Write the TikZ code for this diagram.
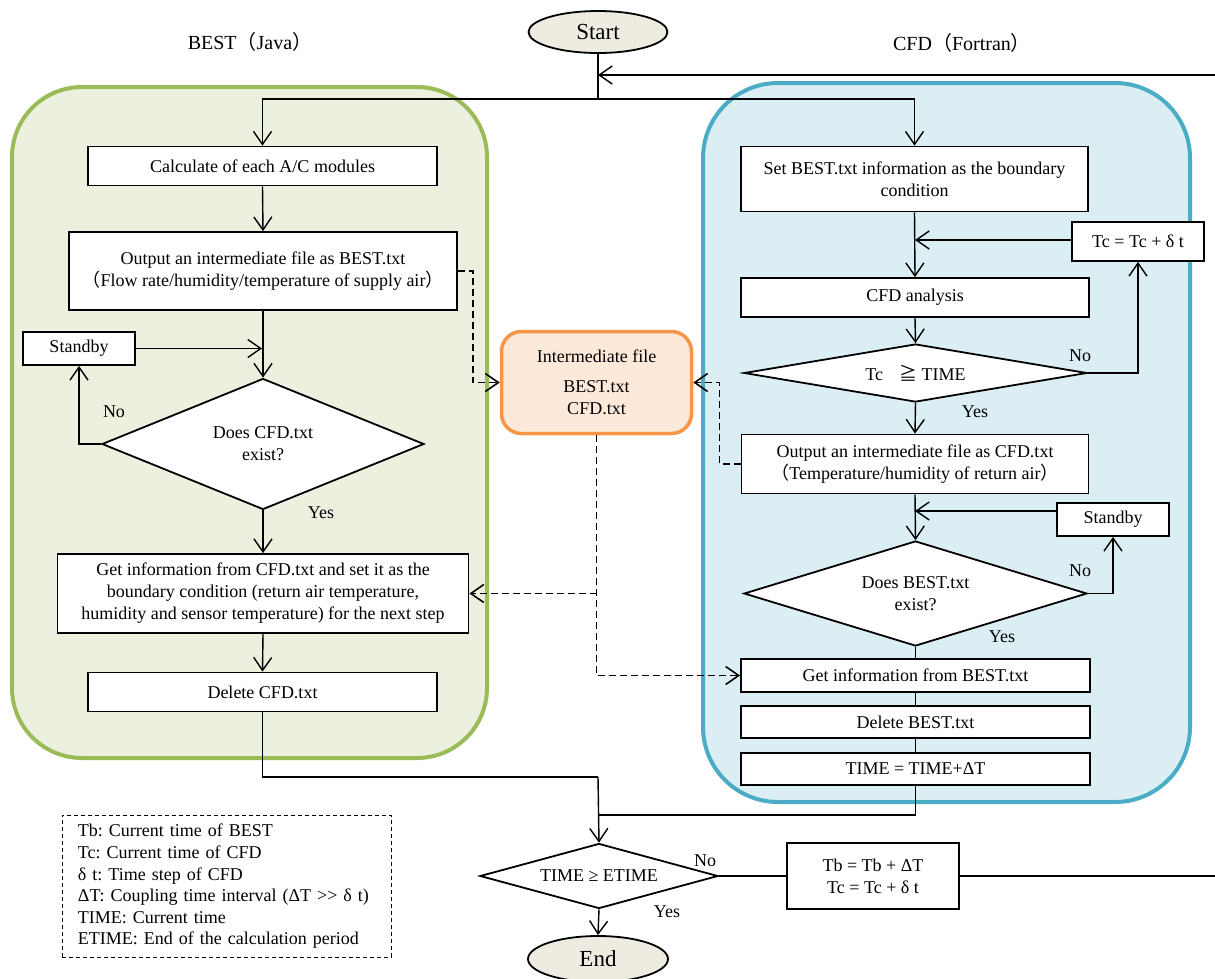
\documentclass[tikz,border=0pt]{standalone}
\usepackage{fontspec}
\setmainfont{Liberation Serif}
\newfontfamily\cjk{Noto Sans CJK JP}
\usetikzlibrary{shapes.geometric,arrows.meta}
\definecolor{gedge}{HTML}{9BBB59}
\definecolor{gfill}{HTML}{EBF1DE}
\definecolor{bedge}{HTML}{4BACC6}
\definecolor{bfill}{HTML}{DAEEF3}
\definecolor{oedge}{HTML}{F79646}
\definecolor{ofill}{HTML}{FDE9D9}
\definecolor{tfill}{HTML}{EEECE1}
\newcommand{\zkL}{{\cjk （}}
\newcommand{\zkR}{{\cjk ）}}
\frenchspacing
\begin{document}
\begin{tikzpicture}[x=1pt,y=-1pt,
  font=\fontsize{18}{22}\selectfont,
  region/.style={rounded corners=#1, line width=4pt},
  box/.style={draw, line width=1.8pt, fill=white, inner sep=2pt, align=center},
  dia/.style={diamond, draw, line width=1.8pt, fill=white, inner sep=0pt, align=center},
  term/.style={ellipse, draw, line width=1.8pt, fill=tfill, inner sep=0pt, font=\fontsize{23}{26}\selectfont},
  ln/.style={line width=1.4pt},
  arr/.style={line width=1.4pt, -{Straight Barb[length=13pt,width=18pt]}},
  dsh/.style={line width=1.6pt, dash pattern=on 7pt off 4pt, -{Straight Barb[length=13pt,width=18pt]}},
  lbl/.style={inner sep=0pt},
  title/.style={inner sep=0pt, font=\fontsize{20}{24}\selectfont}
]
\useasboundingbox (0,0) rectangle (1215,978);

% regions
\node[region=70pt, draw=gedge, fill=gfill, minimum width=475, minimum height=671] (greenreg) at (249.5,422.5) {};
\node[region=75pt, draw=bedge, fill=bfill, minimum width=487, minimum height=719] (bluereg) at (946.5,442.5) {};

% titles
\node[title] (tbest) at (250,42) {BEST\zkL Java\zkR};
\node[title] (tcfd) at (962,43) {CFD\zkL Fortran\zkR};

% terminals
\node[term, minimum width=139, minimum height=42] (start) at (598,32) {Start};
\node[term, minimum width=140, minimum height=46] (end) at (598,959) {End};

% left column
\node[box, minimum width=349, minimum height=39] (c1) at (262.5,166) {Calculate of each A/C modules};
\node[box, minimum width=388, minimum height=78] (o1) at (263,271) {Output an intermediate file as BEST.txt\\\zkL Flow rate/humidity/temperature of supply air\zkR};
\node[box, minimum width=112, minimum height=33] (sb1) at (79,348.5) {Standby};
\node[dia, aspect=2.46, minimum width=322, minimum height=131] (d1) at (263,444) {Does CFD.txt\\exist?};
\node[box, minimum width=411, minimum height=79] (g1) at (263,593.5) {Get information from CFD.txt and set it as the\\boundary condition (return air temperature,\\humidity and sensor temperature) for the next step};
\node[box, minimum width=349, minimum height=39] (del1) at (262.5,692) {Delete CFD.txt};

% right column
\node[box, minimum width=347, minimum height=65] (s2) at (914.5,179) {Set BEST.txt information as the boundary\\condition};
\node[box, minimum width=132, minimum height=39] (tc) at (1138,241.5) {Tc = Tc + δ t};
\node[box, minimum width=348, minimum height=39] (cfd) at (915,297.5) {CFD analysis};
\node[dia, aspect=5.9, minimum width=343, minimum height=58] (d2) at (915.5,373) {Tc\hspace{16pt}{\cjk ≧} TIME};
\node[box, minimum width=347, minimum height=59] (o2) at (915,464) {Output an intermediate file as CFD.txt\\\zkL Temperature/humidity of return air\zkR};
\node[box, minimum width=112, minimum height=33] (sb2) at (1113,519.5) {Standby};
\node[dia, aspect=3.27, minimum width=343, minimum height=105] (d3) at (915.5,593.5) {Does BEST.txt\\exist?};
\node[box, minimum width=349, minimum height=33] (g2) at (915.5,675.5) {Get information from BEST.txt};
\node[box, minimum width=349, minimum height=32] (del2) at (915.5,722) {Delete BEST.txt};
\node[box, minimum width=349, minimum height=32] (tm) at (915.5,769) {TIME = TIME+ΔT};

% bottom
\node[dia, aspect=3.66, minimum width=238, minimum height=65] (d4) at (599,876) {TIME ≥ ETIME};
\node[box, minimum width=172, minimum height=66] (tb) at (873,876) {Tb = Tb + ΔT\\Tc = Tc + δ t};

% intermediate file
\node[draw=oedge, fill=ofill, line width=3.5pt, rounded corners=20pt, minimum width=190, minimum height=102, align=center] (inter) at (596.5,382.5) {Intermediate file\\[8pt]BEST.txt\\CFD.txt};

% legend
\node[draw, line width=0.9pt, dash pattern=on 4pt off 3pt, anchor=north west, minimum width=329, minimum height=142, text width=297, inner xsep=16pt, align=left, font=\fontsize{18}{21.6}\selectfont] (legend) at (61.5,815) {Tb: Current time of BEST\\Tc: Current time of CFD\\δ t: Time step of CFD\\ΔT: Coupling time interval (ΔT >{}> δ t)\\TIME: Current time\\ETIME: End of the calculation period};

% labels
\node[lbl] (no1) at (114,412) {No};
\node[lbl] (yes1) at (321,513) {Yes};
\node[lbl] (no2) at (1080,356) {No};
\node[lbl] (yes2) at (975,412) {Yes};
\node[lbl] (no3) at (1080,571) {No};
\node[lbl] (yes3) at (1002,637) {Yes};
\node[lbl] (no4) at (705,861) {No};
\node[lbl] (yes4) at (667,912) {Yes};

% coordinates
\coordinate (j0) at (598,99);
\coordinate (jr) at (598,75);
\coordinate (rin) at (1215,75);
\coordinate (rout) at (1215,876);
\coordinate (j1) at (262,348.5);
\coordinate (j2) at (915,240);
\coordinate (j3) at (915,511);
\coordinate (jb) at (598,777);
\coordinate (jb2) at (598,815);

% connectors
\draw[ln] (start.south) -- (j0);
\draw[arr] (rin) -- (jr);
\draw[arr] (j0) -| (c1.north);
\draw[arr] (j0) -| (s2.north);
\draw[arr] (c1.south) -- (o1.north);
\draw[arr] (o1.south) -- (d1.north);
\draw[arr] (sb1.east) -- (j1);
\draw[arr] (d1.west) -| (sb1.south);
\draw[arr] (d1.south) -- (g1.north);
\draw[arr] (g1.south) -- (del1.north);
\draw[ln] (del1.south) |- (jb);
\draw[arr] (jb) -- (d4.north);
\draw[ln] (tm.south) |- (jb2);
\draw[arr] (d4.south) -- (end.north);
\draw[ln] (d4.east) -- (tb.west);
\draw[ln] (tb.east) -- (rout);

\draw[arr] (s2.south) -- (cfd.north);
\draw[arr] (tc.west |- j2) -- (j2);
\draw[arr] (cfd.south) -- (d2.north);
\draw[arr] (d2.east) -| (tc.south);
\draw[arr] (d2.south) -- (o2.north);
\draw[arr] (o2.south) -- (d3.north);
\draw[arr] (sb2.west |- j3) -- (j3);
\draw[arr] (d3.east) -| (sb2.south);
\draw[ln] (d3.south) -- (g2.north);
\draw[ln] (g2.south) -- (del2.north);
\draw[ln] (del2.south) -- (tm.north);

% dashed data flow
\draw[dsh] (o1.east) -- ++(15,0) |- (inter.west);
\draw[dsh] (o2.west) -- ++(-21,0) |- (inter.east);
\draw[dsh] (inter.south) |- (g2.west);
\coordinate (jd) at (inter.south |- g1.east);
\draw[dsh] (jd) -- (g1.east);
\end{tikzpicture}
\end{document}
